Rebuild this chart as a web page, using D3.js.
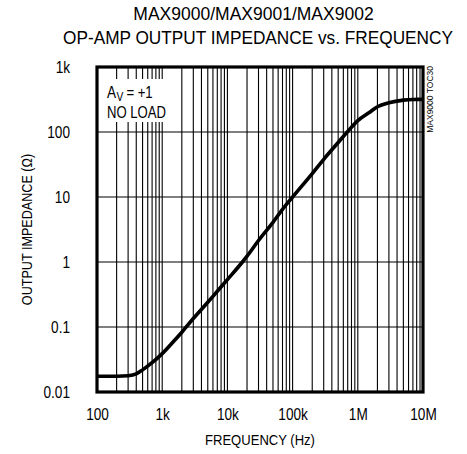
<!DOCTYPE html>
<html><head><meta charset="utf-8">
<script src="https://cdn.jsdelivr.net/npm/d3@7"></script>
<style>body{margin:0;background:#fff}svg{display:block}</style>
</head><body>
<svg id="c" width="467" height="454"></svg>
<script>
const titleLines = ["MAX9000/MAX9001/MAX9002", "OP-AMP OUTPUT IMPEDANCE vs. FREQUENCY"];
const xTickValues = [100, 1e3, 1e4, 1e5, 1e6, 1e7];
const xTickLabels = ["100", "1k", "10k", "100k", "1M", "10M"];
const yTickValues = [0.01, 0.1, 1, 10, 100, 1000];
const yTickLabels = ["0.01", "0.1", "1", "10", "100", "1k"];
const freq = [100, 200, 300, 400, 500, 700, 1e3, 1.5e3, 2e3, 3e3, 5e3, 7e3, 1e4, 1.7e4, 2e4, 3e4, 5e4, 7e4, 1e5, 2e5, 3e5, 5e5, 7e5, 1e6, 1.5e6, 2e6, 3e6, 5e6, 7e6, 1e7];
const impedance = [0.0175, 0.0175, 0.0178, 0.019, 0.0219, 0.0282, 0.0389, 0.0603, 0.0832, 0.135, 0.24, 0.355, 0.537, 1.0, 1.23, 2.14, 4.07, 6.46, 10, 22.9, 38, 69, 102, 150, 200, 245, 282, 309, 317, 318];

const FONT = "'Liberation Sans',Arial,sans-serif";
const svg = d3.select("#c");
const L = 97, R = 423, T = 67, B = 392;
const x = d3.scaleLog().domain([100, 1e7]).range([L, R]);
const y = d3.scaleLog().domain([0.01, 1000]).range([B, T]);

function condense(sel, f) {
  sel.each(function () {
    const len = this.getComputedTextLength();
    this.__w = len * f;
    d3.select(this).attr("textLength", len * f).attr("lengthAdjust", "spacingAndGlyphs");
  });
  return sel;
}

// minor + major vertical grid
const vgrid = [];
for (let e = 2; e < 7; e++) for (let m = 1; m <= 9; m++) { const v = m * Math.pow(10, e); if (v > 100 && v < 1e7) vgrid.push(v); }
svg.append("g").selectAll("line").data(vgrid).join("line")
  .attr("x1", d => x(d)).attr("x2", d => x(d)).attr("y1", T).attr("y2", B)
  .attr("stroke", "#000").attr("stroke-width", 1.1);
svg.append("g").selectAll("line").data(yTickValues.slice(1, -1)).join("line")
  .attr("x1", L).attr("x2", R).attr("y1", d => y(d)).attr("y2", d => y(d))
  .attr("stroke", "#000").attr("stroke-width", 1.1);

// annotation box
svg.append("rect").attr("x", 100).attr("y", 79).attr("width", 70).attr("height", 43).attr("fill", "#fff");
let ax = 107;
const tA = condense(svg.append("text").attr("x", ax).attr("y", 98).attr("font-family", FONT).attr("font-size", 16).text("A"), 0.85);
ax += tA.node().__w + 0.5;
const tV = condense(svg.append("text").attr("x", ax).attr("y", 101).attr("font-family", FONT).attr("font-size", 12).text("V"), 0.85);
ax += tV.node().__w + 3;
condense(svg.append("text").attr("x", ax).attr("y", 98).attr("font-family", FONT).attr("font-size", 16).text("= +1"), 0.82);
condense(svg.append("text").attr("x", 107).attr("y", 118).attr("font-family", FONT).attr("font-size", 16).text("NO LOAD"), 0.82);

// curve
const pts = freq.map((f, i) => [f, impedance[i]]);
svg.append("path").datum(pts)
  .attr("d", d3.line().x(d => x(d[0])).y(d => y(d[1])).curve(d3.curveMonotoneX))
  .attr("fill", "none").attr("stroke", "#000").attr("stroke-width", 3.6).attr("stroke-linejoin", "round");

// frame
svg.append("rect").attr("x", L).attr("y", T).attr("width", R - L).attr("height", B - T)
  .attr("fill", "none").attr("stroke", "#000").attr("stroke-width", 3.2);

// axes (labels only)
const xAxis = d3.axisBottom(x).tickValues(xTickValues).tickFormat((d, i) => xTickLabels[i]).tickSize(0).tickPadding(0);
const gx = svg.append("g").attr("transform", `translate(0,${B})`).call(xAxis);
gx.select(".domain").remove();
condense(gx.selectAll("text").attr("y", 28).attr("dy", 0).attr("font-family", FONT).attr("font-size", 16).attr("fill", "#000"), 0.85);

const yAxis = d3.axisLeft(y).tickValues(yTickValues).tickFormat((d, i) => yTickLabels[i]).tickSize(0).tickPadding(0);
const gy = svg.append("g").attr("transform", `translate(${L},0)`).call(yAxis);
gy.select(".domain").remove();
condense(gy.selectAll("text").attr("x", -27).attr("dy", "0.35em").attr("font-family", FONT).attr("font-size", 16).attr("fill", "#000"), 0.85);

// axis titles
condense(svg.append("text").attr("x", (L + R) / 2).attr("y", 445).attr("text-anchor", "middle")
  .attr("font-family", FONT).attr("font-size", 15).text("FREQUENCY (Hz)"), 0.87);
condense(svg.append("text").attr("transform", `translate(32,${(T + B) / 2}) rotate(-90)`).attr("text-anchor", "middle")
  .attr("font-family", FONT).attr("font-size", 15).text("OUTPUT IMPEDANCE (Ω)"), 0.84);

// side code
svg.append("text").attr("transform", `translate(433,${T - 1}) rotate(-90)`).attr("text-anchor", "end")
  .attr("font-family", FONT).attr("font-size", 8.5).text("MAX9000 TOC30");

// titles
svg.append("text").attr("x", 253.5).attr("y", 20).attr("text-anchor", "middle")
  .attr("font-family", FONT).attr("font-size", 17.5).text(titleLines[0]);
svg.append("text").attr("x", 258).attr("y", 44).attr("text-anchor", "middle")
  .attr("font-family", FONT).attr("font-size", 17.5).attr("textLength", 390).attr("lengthAdjust", "spacingAndGlyphs")
  .text(titleLines[1]);
</script>
</body></html>
